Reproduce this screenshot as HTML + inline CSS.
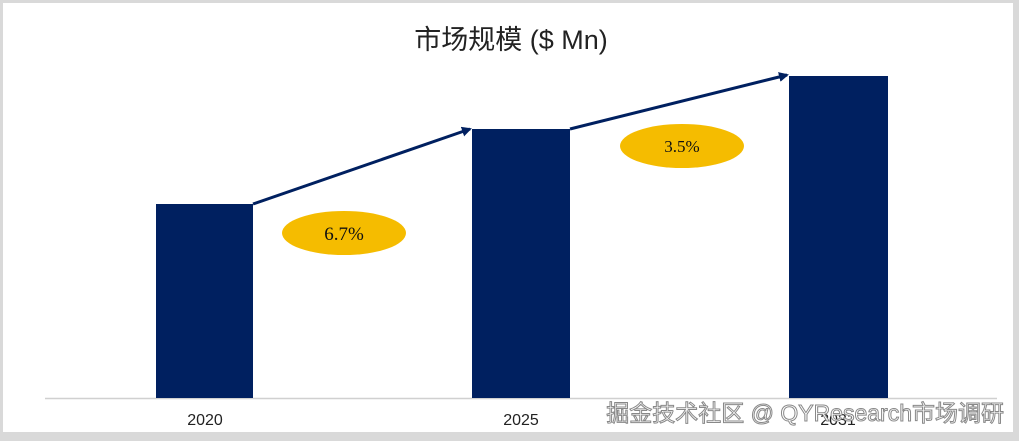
<!DOCTYPE html>
<html><head><meta charset="utf-8"><style>
body{margin:0;background:#d9d9d9;}
</style></head><body>
<svg width="1019" height="441" xmlns="http://www.w3.org/2000/svg" style="display:block">
<rect x="0" y="0" width="1019" height="441" fill="#d9d9d9"/>
<rect x="3" y="3" width="1010" height="429" fill="#fff"/>
<text x="511" y="49" text-anchor="middle" font-family="Liberation Sans, Noto Sans CJK SC, sans-serif" font-size="27" fill="#222">市场规模 ($ Mn)</text>
<line x1="45" y1="398.5" x2="997" y2="398.5" stroke="#d0d0d0" stroke-width="1.5"/>
<rect x="156" y="204" width="97" height="194" fill="#002060"/>
<rect x="472" y="129" width="98" height="269" fill="#002060"/>
<rect x="789" y="76" width="99" height="322" fill="#002060"/>
<defs><marker id="a" markerWidth="10" markerHeight="10" refX="8" refY="5" orient="auto" markerUnits="userSpaceOnUse"><path d="M0,0 L10,5 L0,10 z" fill="#002060"/></marker></defs>
<line x1="253" y1="204" x2="470" y2="129" stroke="#002060" stroke-width="3" marker-end="url(#a)"/>
<line x1="570" y1="129" x2="787" y2="75" stroke="#002060" stroke-width="3" marker-end="url(#a)"/>
<ellipse cx="344" cy="233" rx="62" ry="22" fill="#f5bc00"/>
<ellipse cx="682" cy="146" rx="62" ry="22" fill="#f5bc00"/>
<text x="344" y="240" text-anchor="middle" font-family="Liberation Serif, serif" font-size="19" fill="#111">6.7%</text>
<text x="682" y="152" text-anchor="middle" font-family="Liberation Serif, serif" font-size="17" fill="#111">3.5%</text>
<g font-family="Liberation Sans, sans-serif" font-size="16" fill="#222" text-anchor="middle">
<text x="205" y="425">2020</text><text x="521" y="425">2025</text><text x="838" y="425">2031</text></g>
<text x="1004" y="421" text-anchor="end" font-family="Liberation Sans, Noto Sans CJK SC, sans-serif" font-size="23" fill="#fff" stroke="#888" stroke-width="1">掘金技术社区 @ QYResearch市场调研</text>
</svg>
</body></html>
